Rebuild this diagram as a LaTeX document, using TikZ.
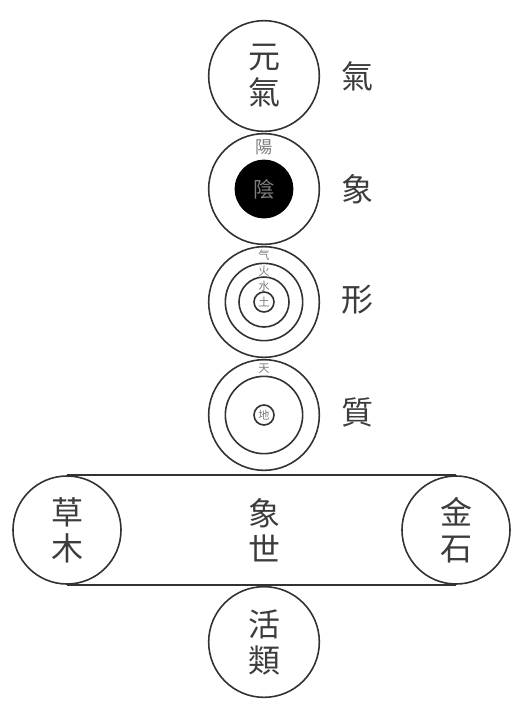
\documentclass[tikz,border=0pt]{standalone}
\usepackage{fontspec}
\newfontfamily\cjk{Noto Sans CJK TC}
\usetikzlibrary{positioning}
\definecolor{InkGray}{RGB}{50,50,50}
\definecolor{TextGray}{RGB}{60,60,60}
\definecolor{PaleGray}{RGB}{125,125,125}
\tikzset{
  ring/.style={circle,draw=InkGray,line width=1.2pt,inner sep=0pt,
    minimum size=83pt,align=center,font=\cjk\fontsize{24}{27}\selectfont,text=TextGray},
  subring/.style={circle,draw=InkGray,line width=1.2pt,inner sep=0pt},
  tag/.style={font=\cjk\fontsize{24}{27}\selectfont,text=TextGray},
  tiny/.style={font=\cjk\fontsize{8.5}{9}\selectfont,text=PaleGray,fill=white,inner sep=0.2pt}
}
\begin{document}
\begin{tikzpicture}[x=0.75pt,y=-0.75pt]
  \useasboundingbox (0,0) rectangle (528,708);
  % 氣
  \node[ring] (yuanqi) at (264,76) {元\\氣};
  \node[tag] (qi) at (357,76) {氣};
  % 象
  \node[ring] (xiang) at (264,189) {};
  \node[circle,fill=black,inner sep=0pt,minimum size=44pt,
    font=\cjk\fontsize{16}{17}\selectfont,text=PaleGray] (yin) at (264,189) {陰};
  \node[font=\cjk\fontsize{13}{14}\selectfont,text=PaleGray] (yang) at (264,147) {陽};
  \node[tag] (xiangtag) at (357,189) {象};
  % 形
  \node[ring] (xing) at (264,302) {};
  \node[subring,minimum size=58pt] (xingb) at (264,302) {};
  \node[subring,minimum size=37.5pt] (xingc) at (264,302) {};
  \node[subring,minimum size=15pt,font=\cjk\fontsize{8.5}{9}\selectfont,text=PaleGray] (tu) at (264,302) {土};
  \node[tiny] (qismall) at (264,255) {气};
  \node[tiny] (huo) at (264,271) {火};
  \node[tiny] (shui) at (264,286) {水};
  \node[tag] (xingtag) at (357,300) {形};
  % 質
  \node[ring] (zhi) at (264,415) {};
  \node[subring,minimum size=58pt] (zhib) at (264,415) {};
  \node[subring,minimum size=15pt,font=\cjk\fontsize{8.5}{9}\selectfont,text=PaleGray] (di) at (264,415) {地};
  \node[tiny] (tian) at (264,369) {天};
  \node[tag] (zhitag) at (357,412) {質};
  % 世
  \node[ring,minimum size=81pt] (caomu) at (67,530) {草\\木};
  \node[ring,minimum size=81pt] (jinshi) at (456,530) {金\\石};
  \node[tag,align=center] (xiangshi) at (264,530) {象\\世};
  \draw[InkGray,line width=1.2pt] (caomu.north) -- (jinshi.north);
  \draw[InkGray,line width=1.2pt] (caomu.south) -- (jinshi.south);
  % 類
  \node[ring] (huolei) at (264,642) {活\\類};
\end{tikzpicture}
\end{document}
